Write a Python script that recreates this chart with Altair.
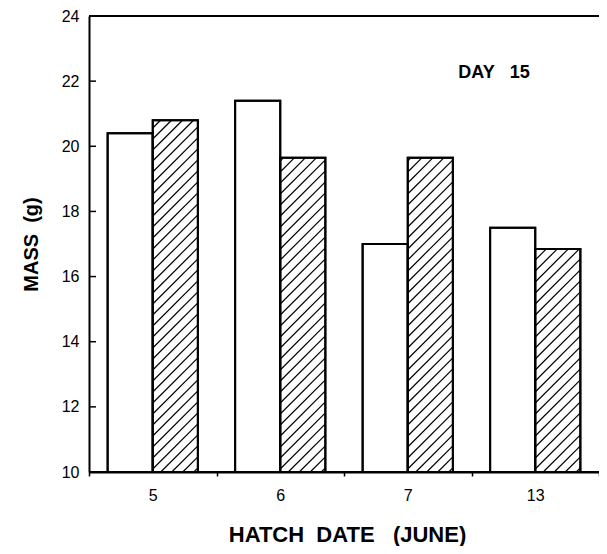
import altair as alt
import pandas as pd
import math

# ---- data ----
dates = ["5", "6", "7", "13"]
open_mass = [20.4, 21.4, 17.0, 17.5]
hatched_mass = [20.8, 19.65, 19.65, 16.85]
series = ["open", "hatched"]
y_ticks = [10, 12, 14, 16, 18, 20, 22, 24]
y_min, y_max = 10, 24

# ---- layout / style ----
W, H = 510, 456
PAD_OUT = 0.413
FONT = "Liberation Sans"
NB = "\u00a0"

bars = pd.DataFrame({
    "date": dates * 2,
    "series": [series[0]] * len(dates) + [series[1]] * len(dates),
    "mass": open_mass + hatched_mass,
})

# hatch lines (45 degrees) clipped to each hatched bar, in data units
n = len(dates)
bw = 1 / (2 + 2 * PAD_OUT)
ppx = W / n
ppy = H / (y_max - y_min)
SP = 11
rows = []
for i, v in enumerate(hatched_mass):
    left = i + (PAD_OUT + 1) * bw
    wb = bw * ppx
    hb = (v - y_min) * ppy
    k0 = math.ceil(-wb / SP)
    k1 = math.floor(hb / SP)
    for k in range(k0, k1 + 1):
        c = k * SP + 3
        x0 = max(0.0, -c)
        x1 = min(wb, hb - c)
        if x1 - x0 < 1.5:
            continue
        rows.append({
            "hx": left + x0 / ppx, "hx2": left + x1 / ppx,
            "hy": y_min + (x0 + c) / ppy, "hy2": y_min + (x1 + c) / ppy,
        })
hatch = pd.DataFrame(rows)

yscale = alt.Scale(domain=[y_min, y_max], nice=False, zero=False)
xband = alt.Scale(paddingInner=0, paddingOuter=0)
xoffscale = alt.Scale(paddingInner=0, paddingOuter=PAD_OUT)

x_axis = alt.Axis(
    title="HATCH" + NB * 2 + "DATE" + NB * 3 + "(JUNE)",
    tickBand="extent", tickSize=4, tickWidth=1.5, tickColor="black",
    domainColor="black", domainWidth=2, labelAngle=0,
    labelFont=FONT, labelFontSize=16, labelColor="black", labelPadding=11,
    titleFont=FONT, titleFontSize=22, titleFontWeight="bold", titleColor="black",
    titleX=W / 2 + 3, titleY=69, titleBaseline="alphabetic", titleAlign="center",
)
y_axis = alt.Axis(
    values=y_ticks, ticks=False, grid=False,
    domainColor="black", domainWidth=2,
    labelFont=FONT, labelFontSize=16, labelColor="black", labelPadding=10,
    title="MASS" + NB * 2 + "(g)",
    titleFont=FONT, titleFontSize=20, titleFontWeight="bold", titleColor="black",
    titleX=-58, titleY=H / 2, titleBaseline="middle", titleAlign="center",
)

base_bars = alt.Chart(bars).mark_bar(fill="white", stroke="black", strokeWidth=2).encode(
    x=alt.X("date:N", sort=dates, scale=xband, axis=x_axis),
    xOffset=alt.XOffset("series:N", sort=series, scale=xoffscale),
    y=alt.Y("mass:Q", scale=yscale, axis=y_axis),
    y2=alt.datum(y_min),
)

hatch_layer = alt.Chart(hatch).mark_rule(stroke="black", strokeWidth=1.2).encode(
    x=alt.X("hx:Q", scale=alt.Scale(domain=[0, n], nice=False, zero=False), axis=None),
    x2="hx2:Q",
    y=alt.Y("hy:Q", scale=yscale, axis=y_axis),
    y2="hy2:Q",
)

outline = alt.Chart(bars).mark_bar(fill="transparent", stroke="black", strokeWidth=2).encode(
    x=alt.X("date:N", sort=dates, scale=xband, axis=None),
    xOffset=alt.XOffset("series:N", sort=series, scale=xoffscale),
    y=alt.Y("mass:Q", scale=yscale, axis=y_axis),
    y2=alt.datum(y_min),
)

ytick_layer = alt.Chart(pd.DataFrame({"t": y_ticks[1:-1]})).mark_rule(
    stroke="black", strokeWidth=1.5
).encode(
    y=alt.Y("t:Q", scale=yscale, axis=y_axis),
    x=alt.value(0), x2=alt.value(7),
)

frame = alt.Chart(pd.DataFrame({"f": [y_min, y_max]})).mark_rule(
    stroke="black", strokeWidth=2
).encode(
    y=alt.Y("f:Q", scale=yscale, axis=y_axis),
    x=alt.value(0), x2=alt.value(W),
)

label = alt.Chart(pd.DataFrame({"t": ["DAY" + NB * 3 + "15"]})).mark_text(
    font=FONT, fontSize=18, fontWeight="bold", color="black", align="center", baseline="middle"
).encode(
    text="t:N",
    x=alt.value(405), y=alt.value(57),
)

chart = alt.layer(base_bars, hatch_layer, outline, ytick_layer, frame, label).resolve_scale(
    x="independent"
).properties(
    width=W, height=H,
    autosize=alt.AutoSizeParams(type="none"),
    padding={"left": 81, "top": 8, "right": 0, "bottom": 74},
).configure_view(stroke=None)

chart.save("out.html", embed_options={"renderer": "svg", "actions": False})
